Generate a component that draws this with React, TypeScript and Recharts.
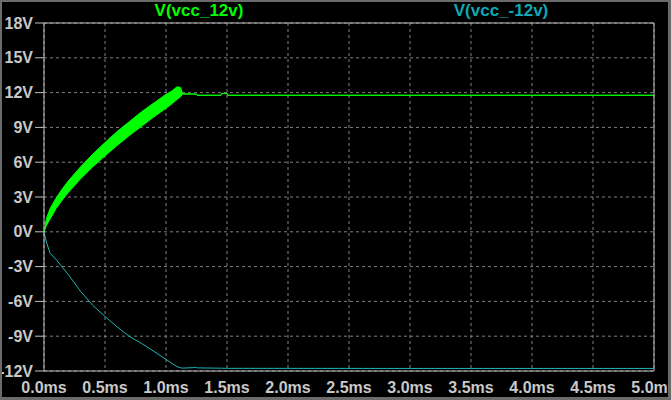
import { ComposedChart, Area, Line, XAxis, YAxis, CartesianGrid, ReferenceLine } from 'recharts'

// time in ms, voltages in V
const TIME = [0, 0.02, 0.05, 0.1, 0.15, 0.2, 0.3, 0.4, 0.5, 0.6, 0.7, 0.8, 0.9, 1.0, 1.05, 1.09, 1.12, 1.135, 1.25, 1.255, 1.45, 1.455, 1.5, 1.505, 3, 5]
const GREEN_HI = [0, 1.15, 2.0, 2.92, 3.7, 4.4, 5.6, 6.7, 7.7, 8.65, 9.5, 10.35, 11.1, 11.85, 12.15, 12.5, 12.45, 11.9, 11.87, 11.77, 11.77, 11.93, 11.93, 11.77, 11.77, 11.77]
const GREEN_LO = [0, 0.55, 1.1, 2.02, 2.75, 3.4, 4.57, 5.6, 6.55, 7.45, 8.3, 9.1, 9.9, 10.65, 11.05, 11.4, 11.65, 11.87, 11.87, 11.77, 11.77, 11.93, 11.93, 11.77, 11.77, 11.77]
const CYAN = [0, -0.9, -1.85, -2.4, -3.05, -3.7, -5.13, -6.34, -7.3, -8.2, -9.02, -9.63, -10.3, -11.0, -11.35, -11.62, -11.72, -11.75, -11.7, -11.73, -11.76, -11.76, -11.77, -11.77, -11.78, -11.78]

const X_TICKS = [0, 0.5, 1, 1.5, 2, 2.5, 3, 3.5, 4, 4.5, 5]
const Y_TICKS = [-12, -9, -6, -3, 0, 3, 6, 9, 12, 15, 18]

const GREEN = '#00ff00'
const CYAN_COLOR = '#1fb5b5'
const AXIS = '#c0c0c0'
const FONT = 'Liberation Sans, Arial, sans-serif'

const tickStyle = { fill: '#c8c8c8', fontSize: 16, fontWeight: 'bold', fontFamily: FONT }

const titleStyle = {
  position: 'absolute' as const,
  top: 2,
  transform: 'translateX(-50%)',
  fontFamily: FONT,
  fontWeight: 'bold' as const,
  fontSize: 17,
  lineHeight: 1,
  whiteSpace: 'nowrap' as const,
}

export default function App() {
  const data = TIME.map((t, i) => ({ t, green: [GREEN_LO[i], GREEN_HI[i]], cyan: CYAN[i] }))

  return (
    <div style={{ position: 'fixed', top: 0, left: 0, width: 671, height: 400, background: '#000', overflow: 'hidden' }}>
      <ComposedChart width={671} height={400} data={data} margin={{ top: 23, right: 17, left: 0, bottom: 0 }}>
        <CartesianGrid stroke="#808080" strokeDasharray="3 3" />
        <XAxis
          dataKey="t"
          type="number"
          domain={[0, 5]}
          ticks={X_TICKS}
          interval={0}
          height={29}
          tickFormatter={(v: number) => `${v.toFixed(1)}ms`}
          tick={tickStyle}
          tickLine={false}
          tickSize={0}
          tickMargin={11}
          axisLine={{ stroke: AXIS }}
        />
        <YAxis
          type="number"
          domain={[-12, 18]}
          ticks={Y_TICKS}
          interval={0}
          width={44}
          tickFormatter={(v: number) => `${v}V`}
          tick={tickStyle}
          tickSize={9}
          tickMargin={2}
          tickLine={{ stroke: AXIS }}
          axisLine={{ stroke: AXIS }}
        />
        <ReferenceLine y={18} stroke={AXIS} />
        <ReferenceLine x={5} stroke={AXIS} />
        <Line
          dataKey="cyan"
          type="linear"
          stroke={CYAN_COLOR}
          strokeWidth={1}
          dot={false}
          isAnimationActive={false}
        />
        <Area
          dataKey="green"
          type="linear"
          stroke={GREEN}
          strokeWidth={1}
          fill={GREEN}
          fillOpacity={1}
          dot={false}
          isAnimationActive={false}
        />
      </ComposedChart>
      <div style={{ ...titleStyle, left: 199, color: '#00ff00' }}>V(vcc_12v)</div>
      <div style={{ ...titleStyle, left: 501, color: '#0fa9b5' }}>V(vcc_-12v)</div>
      <div
        style={{
          position: 'absolute',
          inset: 0,
          boxSizing: 'border-box',
          borderStyle: 'solid',
          borderColor: '#6b6b6b',
          borderWidth: '2px 3px 3px 2px',
          pointerEvents: 'none',
        }}
      />
    </div>
  )
}
